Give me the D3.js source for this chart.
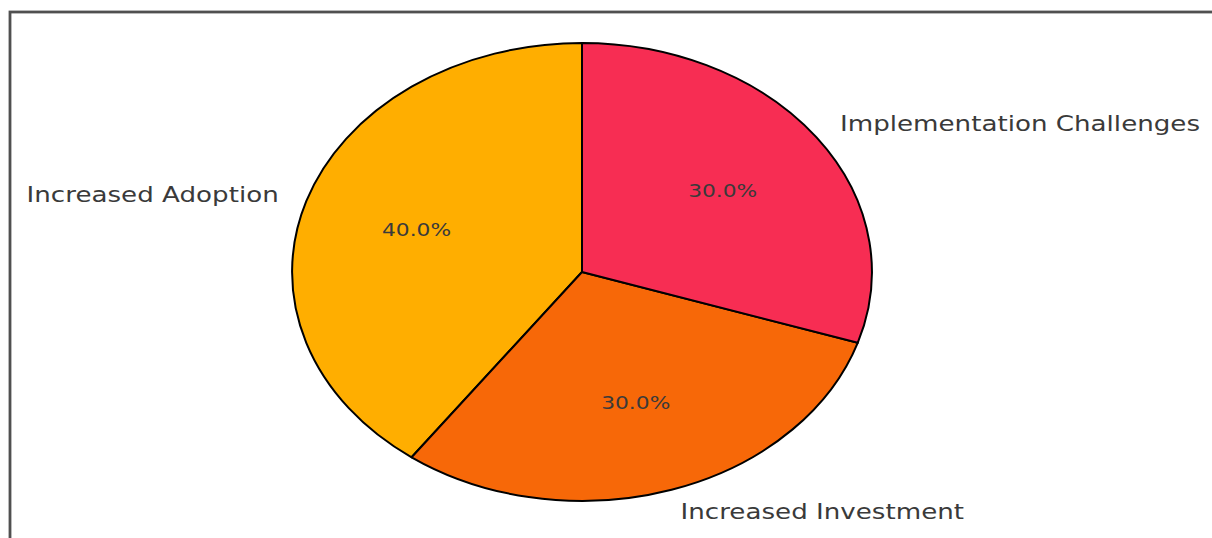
<!DOCTYPE html>
<html>
<head>
<meta charset="utf-8">
<script src="https://cdn.jsdelivr.net/npm/d3@7"></script>
<style>
  html, body { margin: 0; padding: 0; background: #fff; }
  svg { display: block; }
  text { font-family: "DejaVu Sans", sans-serif; }
</style>
</head>
<body>
<svg id="chart" width="1212" height="538"></svg>
<script>
// Slice data
const categories = ["Increased Adoption", "Increased Investment", "Implementation Challenges"];
const shares = [40, 30, 30];
const colors = ["#FFAE00", "#F76808", "#F72D53"];

const svg = d3.select("#chart");
const W = 1212, H = 538;

// Outer frame (runs off the right and bottom edges)
svg.append("rect")
  .attr("x", 10).attr("y", 12)
  .attr("width", W + 20).attr("height", H + 20)
  .attr("fill", "none")
  .attr("stroke", "#505050")
  .attr("stroke-width", 2.8);

// Pie is drawn round, then stretched horizontally
const cx = 582, cy = 272, r = 229, sx = 1.266;

const g = svg.append("g")
  .attr("transform", `translate(${cx},${cy}) scale(${sx},1)`);

// Counter-clockwise from 12 o'clock
const pie = d3.pie()
  .sort(null)
  .value(d => d.v)
  .startAngle(0)
  .endAngle(-2 * Math.PI);

const data = categories.map((c, i) => ({ name: c, v: shares[i], color: colors[i] }));
const arcs = pie(data);

const arc = d3.arc().innerRadius(0).outerRadius(r);
const pctArc = d3.arc().innerRadius(r * 0.6).outerRadius(r * 0.6);
const lblArc = d3.arc().innerRadius(r * 1.1).outerRadius(r * 1.1);

const total = d3.sum(shares);

g.selectAll("path.slice")
  .data(arcs)
  .join("path")
  .attr("class", "slice")
  .attr("d", arc)
  .attr("fill", d => d.data.color)
  .attr("stroke", "#000")
  .attr("stroke-width", 2)
  .attr("stroke-linejoin", "round")
  .attr("vector-effect", "non-scaling-stroke");

// Percentages inside slices
g.selectAll("text.pct")
  .data(arcs)
  .join("text")
  .attr("class", "pct")
  .attr("x", d => pctArc.centroid(d)[0])
  .attr("y", d => pctArc.centroid(d)[1])
  .attr("dy", "0.36em")
  .attr("text-anchor", "middle")
  .attr("font-size", 17.2)
  .attr("fill", "#3a3a3a")
  .text(d => (d.data.v / total * 100).toFixed(1) + "%");

// Category labels outside
g.selectAll("text.lbl")
  .data(arcs)
  .join("text")
  .attr("class", "lbl")
  .attr("x", d => lblArc.centroid(d)[0])
  .attr("y", d => lblArc.centroid(d)[1])
  .attr("dy", "0.36em")
  .attr("text-anchor", d => lblArc.centroid(d)[0] > 0 ? "start" : "end")
  .attr("font-size", 20.65)
  .attr("fill", "#3a3a3a")
  .text(d => d.data.name);
</script>
</body>
</html>
